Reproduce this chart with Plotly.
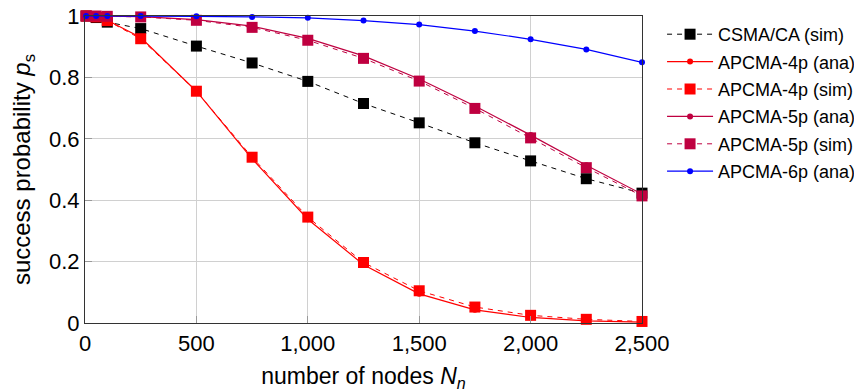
import plotly.graph_objects as go

nodes = [5, 50, 100, 250, 500, 750, 1000, 1250, 1500, 1750, 2000, 2250, 2500]
csma_sim = [1.0, 0.995, 0.98, 0.959, 0.902, 0.847, 0.787, 0.715, 0.652, 0.587, 0.528, 0.470, 0.423]
apcma4_ana = [1.0, 0.997, 0.986, 0.930, 0.755, 0.535, 0.338, 0.190, 0.095, 0.043, 0.018, 0.007, 0.003]
apcma4_sim = [1.0, 0.997, 0.985, 0.926, 0.755, 0.540, 0.345, 0.197, 0.105, 0.052, 0.025, 0.012, 0.005]
apcma5_ana = [1.0, 1.0, 1.0, 0.998, 0.988, 0.967, 0.927, 0.870, 0.795, 0.707, 0.612, 0.514, 0.420]
apcma5_sim = [1.0, 1.0, 0.999, 0.997, 0.986, 0.963, 0.921, 0.862, 0.788, 0.699, 0.603, 0.506, 0.414]
apcma6_ana = [1.0, 1.0, 1.0, 1.0, 0.999, 0.997, 0.994, 0.985, 0.972, 0.951, 0.924, 0.891, 0.849]

x_ticks = [0, 500, 1000, 1500, 2000, 2500]
x_tick_labels = ["0", "500", "1,000", "1,500", "2,000", "2,500"]
y_ticks = [0, 0.2, 0.4, 0.6, 0.8, 1]
y_tick_labels = ["0", "0.2", "0.4", "0.6", "0.8", "1"]

BLACK = "#000000"
RED = "#ff0000"
PURPLE = "#bf0040"
BLUE = "#0000ff"
DASH = "5px,5px"

series = [
    ("CSMA/CA (sim)", csma_sim, BLACK, DASH, "square", 11, 1.0),
    ("APCMA-4p (ana)", apcma4_ana, RED, "solid", "circle", 6, 1.2),
    ("APCMA-4p (sim)", apcma4_sim, RED, DASH, "square", 11, 1.0),
    ("APCMA-5p (ana)", apcma5_ana, PURPLE, "solid", "circle", 6, 1.2),
    ("APCMA-5p (sim)", apcma5_sim, PURPLE, DASH, "square", 11, 1.0),
    ("APCMA-6p (ana)", apcma6_ana, BLUE, "solid", "circle", 6, 1.2),
]

fig = go.Figure()
for i, (name, ys, col, dash, sym, size, lw) in enumerate(series):
    fig.add_trace(go.Scatter(
        x=nodes, y=ys, name=name, mode="lines+markers",
        line=dict(color=col, width=lw, dash=dash),
        marker=dict(color=col, symbol=sym, size=size, line=dict(width=0)),
        cliponaxis=False, legendgroup=f"g{i}",
    ))

FONT = "Liberation Sans, Arial, Helvetica, sans-serif"

# page body has an 8px margin, so the figure is sized/offset to compensate
fig.update_layout(
    width=854, height=384,
    margin=dict(l=77, r=220, t=8, b=69, autoexpand=False),
    paper_bgcolor="white", plot_bgcolor="white",
    font=dict(family=FONT, color="black", size=18),
    showlegend=True,
    legend=dict(
        x=1.036, xanchor="left", y=1.0, yanchor="top",
        font=dict(size=18, family=FONT),
        traceorder="grouped", tracegroupgap=1, itemwidth=46,
        bgcolor="rgba(0,0,0,0)", borderwidth=0,
    ),
    xaxis=dict(
        range=[0, 2500], automargin=False,
        tickmode="array", tickvals=x_ticks, ticktext=x_tick_labels,
        tickfont=dict(size=22, family=FONT),
        showgrid=True, gridcolor="#d0d0d0", gridwidth=1,
        showline=True, linecolor="#333333", linewidth=1.2, mirror=True,
        ticks="inside", ticklen=7, tickcolor="#999999",
        zeroline=False, ticklabeloverflow="allow",
        title=dict(text="number of nodes <i>N</i><sub><i>n</i></sub>",
                   font=dict(size=23, family=FONT), standoff=13),
    ),
    yaxis=dict(
        range=[0, 1], automargin=False,
        tickmode="array", tickvals=y_ticks, ticktext=y_tick_labels,
        tickfont=dict(size=22, family=FONT),
        showgrid=True, gridcolor="#d0d0d0", gridwidth=1,
        showline=True, linecolor="#333333", linewidth=1.2, mirror=True,
        ticks="inside", ticklen=7, tickcolor="#999999",
        zeroline=False, ticklabeloverflow="allow",
        title=dict(text="success probability <i>p</i><sub>s</sub>",
                   font=dict(size=24, family=FONT), standoff=12),
    ),
)

fig.write_html("out.html")
